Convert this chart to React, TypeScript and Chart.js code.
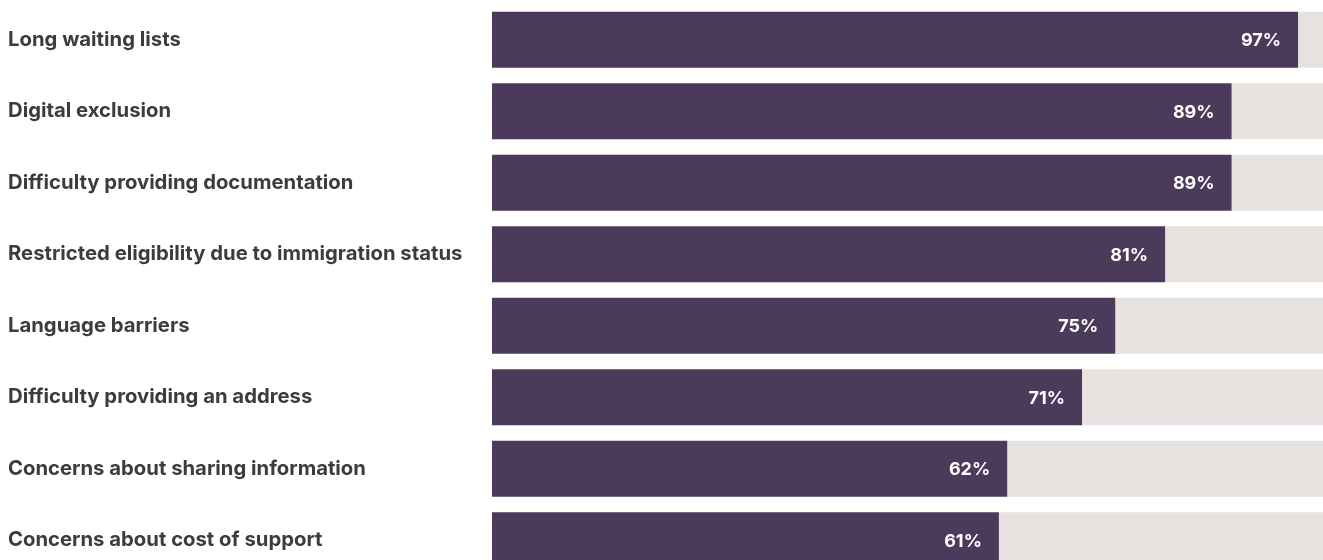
import React, { useEffect, useRef } from "react";
import { Chart, registerables } from "chart.js";

Chart.register(...registerables);

const categories = [
  "Long waiting lists",
  "Digital exclusion",
  "Difficulty providing documentation",
  "Restricted eligibility due to immigration status",
  "Language barriers",
  "Difficulty providing an address",
  "Concerns about sharing information",
  "Concerns about cost of support",
];

const values = [97, 89, 89, 81, 75, 71, 62, 61];
const scaleMax = 100;

const PURPLE = "#4b3a5a";
const GREY = "#e7e2df";
const TEXT = "#3c3c3c";
const LABEL_FONT = "Inter, 'Open Sans', sans-serif";
const VALUE_FONT = "Inter, 'Open Sans', sans-serif";

const valueLabels = {
  id: "valueLabels",
  afterDatasetsDraw(chart: any) {
    const ctx = chart.ctx;
    const meta = chart.getDatasetMeta(0);
    ctx.save();
    ctx.fillStyle = "#ffffff";
    ctx.font = `bold 18px ${VALUE_FONT}`;
    ctx.textAlign = "right";
    ctx.textBaseline = "middle";
    meta.data.forEach((bar: any, i: number) => {
      ctx.fillText(values[i] + "%", bar.x - 17, bar.y + 1);
    });
    ctx.restore();
  },
};

export default function App() {
  const ref = useRef<HTMLCanvasElement | null>(null);

  useEffect(() => {
    document.body.style.margin = "0";
    document.body.style.overflow = "hidden";
    if (!ref.current) return;
    const chart = new Chart(ref.current, {
      type: "bar",
      data: {
        labels: categories,
        datasets: [
          {
            data: values,
            backgroundColor: PURPLE,
            borderWidth: 0,
            barPercentage: 1,
            categoryPercentage: 0.783,
          },
          {
            data: values.map((v) => scaleMax - v),
            backgroundColor: GREY,
            borderWidth: 0,
            barPercentage: 1,
            categoryPercentage: 0.783,
          },
        ],
      },
      options: {
        indexAxis: "y",
        animation: false,
        responsive: true,
        maintainAspectRatio: false,
        layout: { padding: { top: 4, bottom: 4, left: 8, right: 0 } },
        plugins: {
          legend: { display: false },
          tooltip: { enabled: false },
        },
        scales: {
          x: {
            display: false,
            stacked: true,
            min: 0,
            max: scaleMax,
          },
          y: {
            stacked: true,
            grid: { display: false },
            border: { display: false },
            ticks: {
              crossAlign: "far",
              color: TEXT,
              font: { family: LABEL_FONT, weight: "bold", size: 20.3 },
            },
            afterFit(scale: any) {
              scale.width = 484;
              scale.paddingTop = 0;
              scale.paddingBottom = 0;
            },
          },
        },
      },
      plugins: [valueLabels],
    });
    return () => chart.destroy();
  }, []);

  return (
    <div style={{ width: 1323, height: 560, overflow: "hidden" }}>
      <div style={{ position: "relative", width: 1323, height: 580 }}>
        <canvas ref={ref} />
      </div>
    </div>
  );
}
